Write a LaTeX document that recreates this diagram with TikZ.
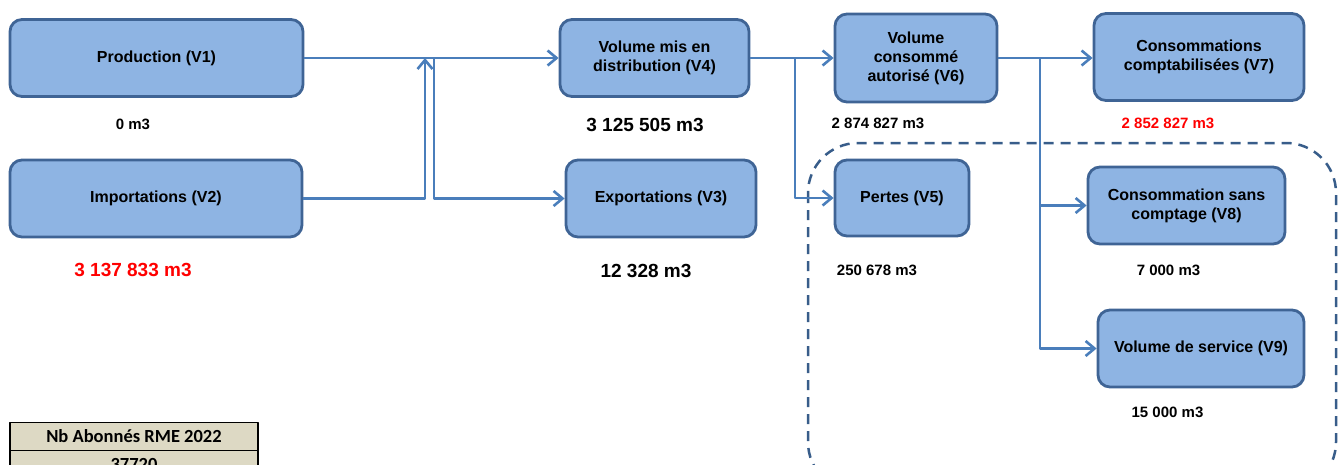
\documentclass[tikz,border=0pt]{standalone}
\usepackage{fontspec}
\setmainfont{Liberation Sans}
\newfontfamily\tablefont{Carlito}
\usetikzlibrary{arrows.meta,positioning}
\definecolor{boxfill}{HTML}{8EB4E3}
\definecolor{boxline}{HTML}{3F6495}
\definecolor{flow}{HTML}{4A7EBB}
\definecolor{dashblue}{HTML}{385D8A}
\definecolor{tabfill}{HTML}{DDD9C4}
\tikzset{
    bilan/.style={x=1pt,y=-1pt,>={Straight Barb[length=9pt,width=15pt]},
                  line join=round},
    vbox/.style={rectangle,rounded corners=12pt,draw=boxline,fill=boxfill,
                 line width=2.8pt,align=center,inner sep=2pt,
                 font=\bfseries\fontsize{16}{19}\selectfont},
    flux/.style={draw=flow,line width=2.6pt},
    qty/.style={font=\bfseries\fontsize{15}{18}\selectfont},
    bigqty/.style={font=\bfseries\fontsize{19}{22}\selectfont},
    cell/.style={draw=black,fill=tabfill,line width=1.5pt,minimum width=248pt,
                 minimum height=28pt,inner sep=0pt,
                 font=\tablefont\bfseries\fontsize{18.5}{22}\selectfont},
    }
\begin{document}
\begin{tikzpicture}[bilan]
    \useasboundingbox (0,0) rectangle (1338,464);
    \clip (0,0) rectangle (1338,464);

    % perimetre pertes / consommations
    \draw[dashblue,line width=2.5pt,dash pattern=on 10pt off 7pt,
          rounded corners=50pt] (808,143) rectangle (1336,492);

    \node[vbox,minimum width=293pt,minimum height=77pt] (v1) at (156.5,58) {Production (V1)};
    \node[vbox,minimum width=292pt,minimum height=77pt] (v2) at (156,198.5) {Importations (V2)};
    \node[vbox,minimum width=189pt,minimum height=77pt] (v4) at (654.5,58) {Volume mis en\\distribution (V4)};
    \node[vbox,minimum width=190pt,minimum height=77pt] (v3) at (661,198.5) {Exportations (V3)};
    \node[vbox,minimum width=162pt,minimum height=88pt] (v6) at (916,58) {Volume\\consommé\\autorisé (V6)};
    \node[vbox,minimum width=134pt,minimum height=76pt] (v5) at (902,198) {Pertes (V5)};
    \node[vbox,minimum width=210pt,minimum height=87pt] (v7) at (1199,57) {Consommations\\comptabilisées (V7)};
    \node[vbox,minimum width=197pt,minimum height=77pt] (v8) at (1186.5,205.5) {Consommation sans\\comptage (V8)};
    \node[vbox,minimum width=206pt,minimum height=77pt] (v9) at (1201,348.5) {Volume de service (V9)};

    \node[qty] (q1) at (133,124) {0 m3};
    \node[bigqty,text=red] (q2) at (133,270) {3 137 833 m3};
    \node[bigqty] (q4) at (645,125) {3 125 505 m3};
    \node[bigqty] (q3) at (646,271) {12 328 m3};
    \node[qty] (q6) at (878,123) {2 874 827 m3};
    \node[qty,text=red] (q7) at (1168,123) {2 852 827 m3};
    \node[qty] (q5) at (877,270) {250 678 m3};
    \node[qty] (q8) at (1168.5,270) {7 000 m3};
    \node[qty] (q9) at (1167.5,412) {15 000 m3};

    \coordinate (up) at (425,58);
    \coordinate (dn) at (434,58);
    \coordinate (b1) at (795,58);
    \coordinate (b2) at (1040,58);

    \path[flux,->] (v1) edge (v4);
    \draw[flux,->] (v2.east) -| (up);
    \draw[flux,->] (dn) |- (v3.west);
    \path[flux,->] (v4) edge (v6);
    \draw[flux,->] (b1) |- (v5.west);
    \draw[flux,->] (v6.east) -- (v6.east -| v7.west);
    \draw[flux,->] (b2) |- (v8.west);
    \draw[flux,->] (b2) |- (v9.west);

    \node[cell] (nb) at (134,436.5) {Nb Abonnés RME 2022};
    \node[cell] (nbval) at (134,464.5) {37720};
\end{tikzpicture}
\end{document}
